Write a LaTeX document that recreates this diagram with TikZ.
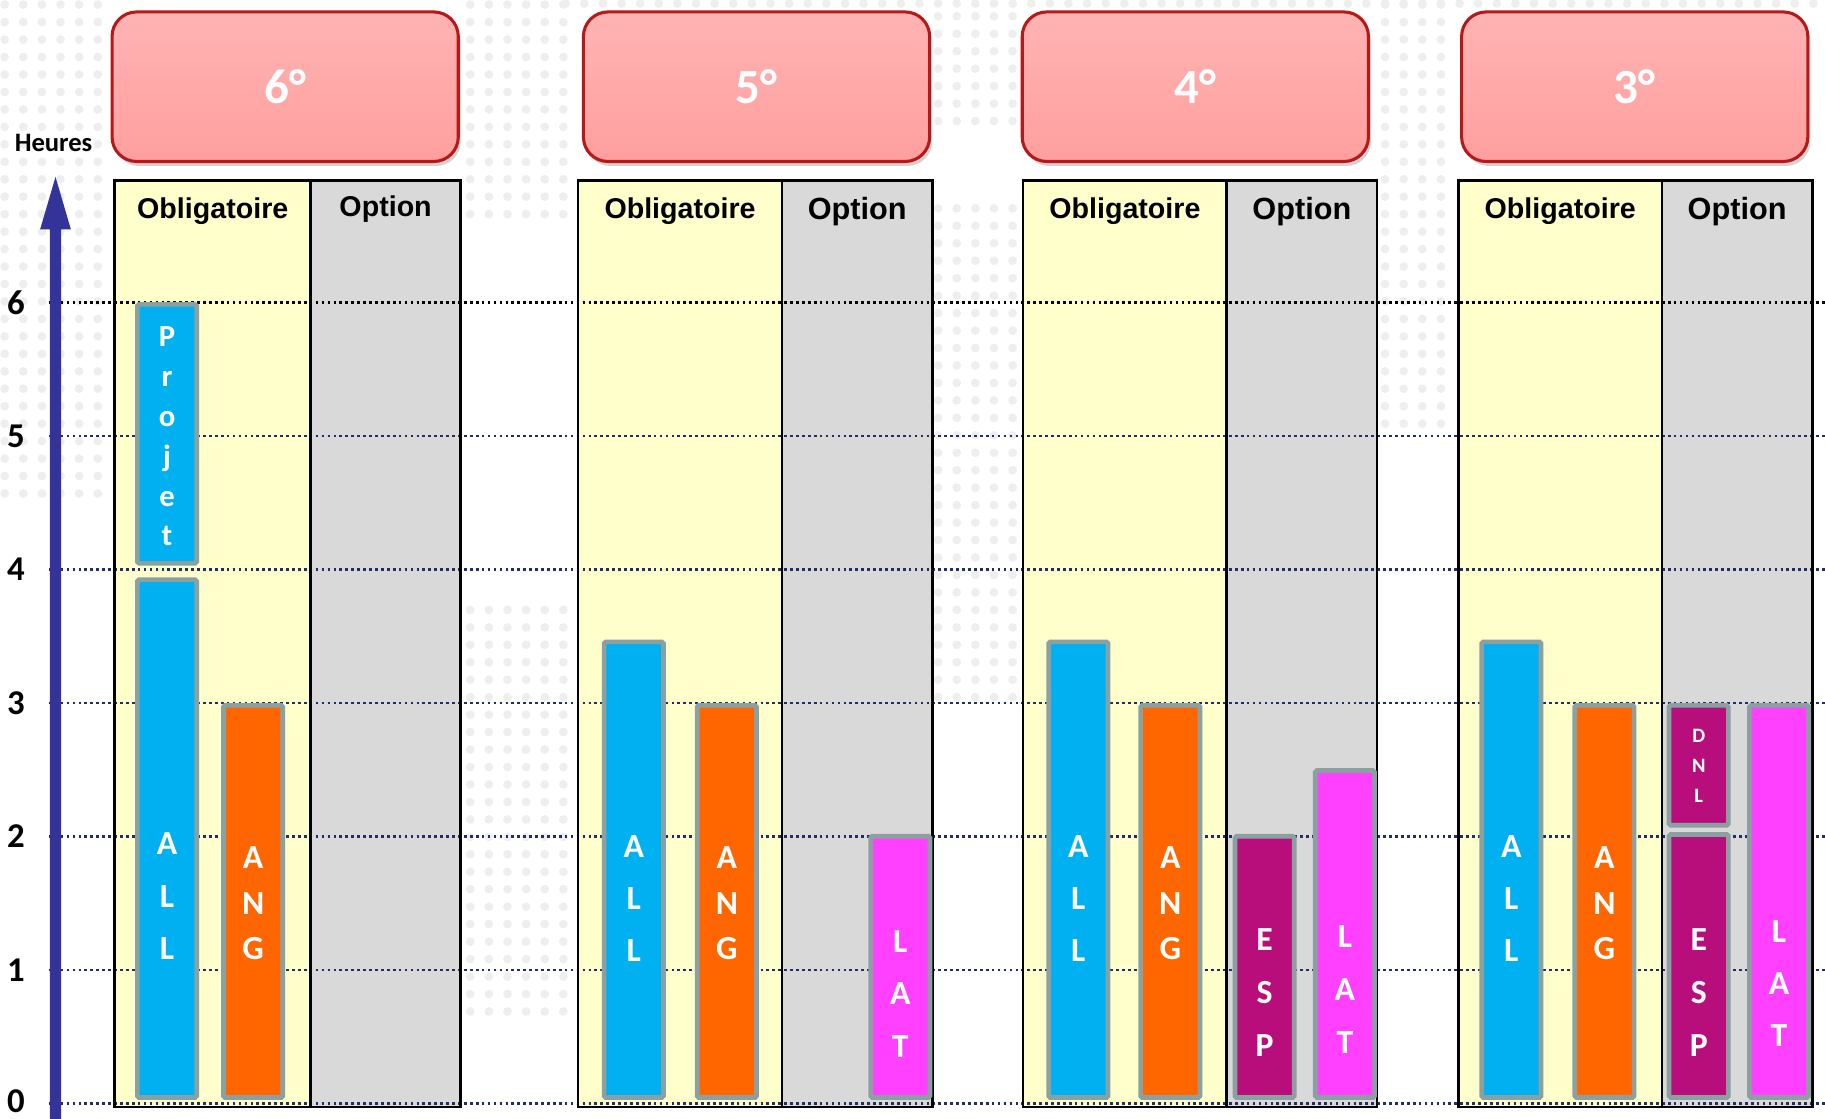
\documentclass[tikz,border=0pt]{standalone}
\usepackage{fontspec}
\newfontfamily\calfont{Carlito}
\newfontfamily\arifont{Liberation Sans}
\usetikzlibrary{shadows}
\definecolor{allc}{HTML}{00B0F0}
\definecolor{angc}{HTML}{FF6600}
\definecolor{latc}{HTML}{FF40FF}
\definecolor{espc}{HTML}{B70E7C}
\definecolor{barb}{HTML}{8BA1A1}
\definecolor{oblc}{HTML}{FFFFCC}
\definecolor{optc}{HTML}{D9D9D9}
\definecolor{hdrf}{HTML}{FF9F9F}
\definecolor{hdrtop}{HTML}{FFB3B3}
\definecolor{hdrb}{HTML}{B81818}
\definecolor{axisc}{HTML}{333399}
\definecolor{gridc}{HTML}{1F2D6B}
\definecolor{dotc}{HTML}{EEEEEE}
\newcommand\mybar[5]{%
  \node[barbox, fill=#5, minimum width=1.02cm, minimum height={(#4-#3-4)*0.02cm}] (#1) at ({#2+27.5},{(#3+#4)/2}) {};}
\begin{document}
\begin{tikzpicture}[x=0.02cm,y=-0.02cm,
  hdr/.style={draw=hdrb, line width=1.5pt, rounded corners=0.42cm, top color=hdrtop, bottom color=hdrf,
    minimum width=5.95cm, minimum height=2.57cm, text=white,
    font=\calfont\bfseries\fontsize{24}{28}\selectfont,
    drop shadow={shadow xshift=1.2pt, shadow yshift=-2.2pt, opacity=0.35}},
  tbl/.style={draw=black, line width=1.3pt},
  gridline/.style={draw=gridc, line width=1.3pt, dash pattern=on 1.3pt off 1.6pt},
  barbox/.style={draw=barb, line width=0.08cm, rounded corners=0.8pt, inner sep=0pt},
  bartext/.style 2 args={text=white, font=\calfont\bfseries\fontsize{#1}{#2}\selectfont, align=center, inner sep=0pt},
  colhead/.style={font=\arifont\bfseries\fontsize{#1}{16}\selectfont, inner sep=0pt},
  axlab/.style={font=\calfont\bfseries\fontsize{17}{20}\selectfont, inner sep=0pt},
  bgdot/.style={fill=dotc}
]
\useasboundingbox (0,0) rectangle (1568,960.6);
\fill[white] (0,0) rectangle (1568,960.6);

% faint dotted background map
\foreach \xx in {4,20,...,92} \foreach \yy in {4,19,...,424} \fill[bgdot] (\xx,\yy) circle (0.075cm);
\foreach \xx in {404,420,...,484} \foreach \yy in {4,19,...,184} \fill[bgdot] (\xx,\yy) circle (0.075cm);
\foreach \xx in {404,420,...,484} \foreach \yy in {524,539,...,869} \fill[bgdot] (\xx,\yy) circle (0.075cm);
\foreach \xx in {806,822,...,870} \foreach \yy in {14,29,...,104} \fill[bgdot] (\xx,\yy) circle (0.075cm);
\foreach \xx in {806,822,...,870} \foreach \yy in {179,194,...,599} \fill[bgdot] (\xx,\yy) circle (0.075cm);
\foreach \xx in {1190,1206,...,1246} \foreach \yy in {4,19,...,364} \fill[bgdot] (\xx,\yy) circle (0.075cm);
\foreach \xx in {486,502,...,1566} \fill[bgdot] (\xx,3) circle (0.075cm);

% header boxes
\node[hdr] (h6) at (245,74.5) {6°};
\node[hdr] (h5) at (650,74.5) {5°};
\node[hdr] (h4) at (1027,74.5) {4°};
\node[hdr] (h3) at (1404.5,74.5) {3°};

% table fills
\fill[oblc] (98.6,155) rectangle (267,951);
\fill[optc] (267,155) rectangle (395.6,951);
\fill[oblc] (496.6,155) rectangle (672,951);
\fill[optc] (672,155) rectangle (801,951);
\fill[oblc] (879,155) rectangle (1054,951);
\fill[optc] (1054,155) rectangle (1183,951);
\fill[oblc] (1253,155) rectangle (1428,951);
\fill[optc] (1428,155) rectangle (1557,951);

% hour lines
\foreach \h in {0,...,5} \draw[gridline] (42,{948-114.7*\h}) -- (1568,{948-114.7*\h});
\draw[gridline, draw=black] (42,259.8) -- (1568,259.8);

% table borders
\draw[tbl] (98.6,155) rectangle (395.6,951) (267,155) -- (267,951);
\draw[tbl] (496.6,155) rectangle (801,951) (672,155) -- (672,951);
\draw[tbl] (879,155) rectangle (1183,951) (1054,155) -- (1054,951);
\draw[tbl] (1253,155) rectangle (1557,951) (1428,155) -- (1428,951);

% column headers
\node[colhead=14] (o6) at (182.8,181) {Obligatoire};
\node[colhead=14] (p6) at (331.3,180) {Option};
\node[colhead=14] (o5) at (584.3,181) {Obligatoire};
\node[colhead=15] (p5) at (736.5,181.5) {Option};
\node[colhead=14] (o4) at (966.5,181) {Obligatoire};
\node[colhead=15] (p4) at (1118.5,181.5) {Option};
\node[colhead=14] (o3) at (1340.5,181) {Obligatoire};
\node[colhead=15] (p3) at (1492.5,181.5) {Option};

% bars
\mybar{bp6}{116}{259.5}{486}{allc}
\mybar{ba6}{116}{496}{945}{allc}
\mybar{bn6}{190}{604}{945}{angc}
\mybar{ba5}{517}{549.5}{945}{allc}
\mybar{bn5}{597}{604}{945}{angc}
\mybar{bl5}{746}{716.5}{945}{latc}
\mybar{ba4}{899}{549.5}{945}{allc}
\mybar{bn4}{978}{604}{945}{angc}
\mybar{be4}{1059}{716.5}{945}{espc}
\mybar{bl4}{1128}{660}{945}{latc}
\mybar{ba3}{1271}{549.5}{945}{allc}
\mybar{bn3}{1351}{604}{945}{angc}
\mybar{bd3}{1432}{604}{711}{espc}
\mybar{be3}{1432}{715}{945}{espc}
\mybar{bl3}{1501}{604}{945}{latc}

% bar labels
\node[bartext={15}{19.5}] (tp6) at (bp6.center |- 0,375) {P\\r\\o\\j\\e\\t};
\node[bartext={16.5}{25.6}] (ta6) at (ba6.center |- 0,770) {A\\L\\L};
\node[bartext={16.5}{22.2}] (tn6) at (bn6.center |- 0,776) {A\\N\\G};
\node[bartext={16.5}{25.6}] (ta5) at (ba5.center |- 0,772) {A\\L\\L};
\node[bartext={16.5}{22.2}] (tn5) at (bn5.center |- 0,776) {A\\N\\G};
\node[bartext={16.5}{25.8}] (tl5) at (bl5.center |- 0,854) {L\\A\\T};
\node[bartext={16.5}{25.6}] (ta4) at (ba4.center |- 0,772) {A\\L\\L};
\node[bartext={16.5}{22.2}] (tn4) at (bn4.center |- 0,776) {A\\N\\G};
\node[bartext={16.5}{26}] (te4) at (be4.center |- 0,853) {E\\S\\P};
\node[bartext={16.5}{25.8}] (tl4) at (bl4.center |- 0,850) {L\\A\\T};
\node[bartext={16.5}{25.6}] (ta3) at (ba3.center |- 0,772) {A\\L\\L};
\node[bartext={16.5}{22.2}] (tn3) at (bn3.center |- 0,776) {A\\N\\G};
\node[bartext={10}{14.5}] (td3) at (bd3.center |- 0,658) {D\\N\\L};
\node[bartext={16.5}{26}] (te3) at (be3.center |- 0,853) {E\\S\\P};
\node[bartext={16.5}{25.6}] (tl3) at (bl3.center |- 0,845) {L\\A\\T};

% axis
\fill[axisc] (42.8,965) -- (42.8,197) -- (34.5,197) -- (47.7,152) -- (60.9,197) -- (52.6,197) -- (52.6,965) -- cycle;
\node[font=\calfont\bfseries\fontsize{13}{15}\selectfont, inner sep=0pt] (heures) at (46,122.5) {Heures};
\foreach \h in {1,...,6} \node[axlab] (y\h) at (13.6,{948-114.7*\h}) {\h};
\node[axlab] (y0) at (13.6,946) {0};
\end{tikzpicture}
\end{document}
